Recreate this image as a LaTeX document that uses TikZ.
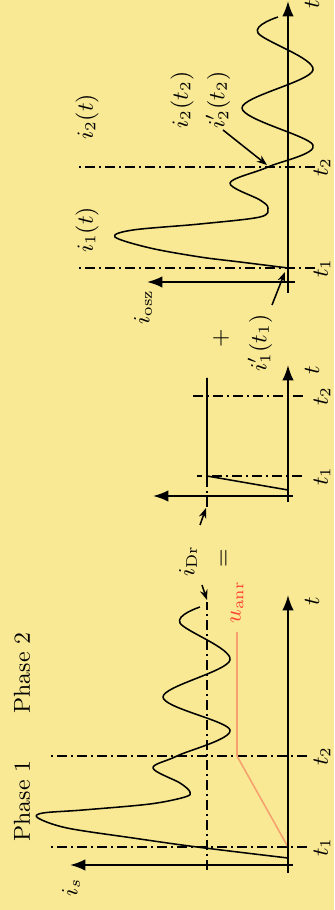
\documentclass[tikz,border=0pt]{standalone}
\usepackage{amsmath}
\usetikzlibrary{arrows.meta}
\definecolor{paper}{HTML}{F9E994}
\definecolor{ramp}{HTML}{F5A06E}
\definecolor{ramptext}{HTML}{FF4433}

\begin{document}
\begin{tikzpicture}[x=0.0137cm, y=0.0137cm, rotate=90, transform shape,
  axis/.style={thick, -{Latex[length=6pt, width=4.5pt]}},
  guide/.style={thin, dash pattern=on 4pt off 1.5pt on 0.8pt off 1.5pt},
  signal/.style={semithick, line join=round},
  pointer/.style={-{Stealth[length=4pt, width=3pt]}, semithick},
  lbl/.style={font=\small, inner sep=1pt},
]
\fill[paper] (0,0) rectangle (910,334);
\useasboundingbox (0,0) rectangle (910,334);

% left: total current
\draw[guide] (63,27) -- (63,286);
\draw[guide] (154,27) -- (154,286);
\draw[guide] (40,127) -- (308,127);
\draw[ramp, semithick] (40,46) -- (63,46) -- (154,97) -- (278,97);
\draw[signal] (40,46) -- (52,46) plot[smooth, tension=0.55] coordinates {(52,46) (63,137) (72,201) (82,267) (92,296) (97,291) (100,251) (106,184) (113,149) (118,144) (127,154) (142,181) (154,157) (180,104) (213,171) (250,104) (287,154) (303,134)};
\draw[axis] (37,46) -- (315,46);
\draw[axis] (45,41) -- (45,264);
\node[lbl] (phaseA) at (109,312) {Phase 1};
\node[lbl] (phaseB) at (237,312) {Phase 2};
\node[lbl] (is) at (23,263) {$i_s$};
\node[lbl] (tA) at (309,22) {$t$};
\node[lbl] (tA1) at (63,12) {$t_1$};
\node[lbl] (tA2) at (154,12) {$t_2$};
\node[lbl, text=ramptext] (uanr) at (308,97) {$u_{\mathrm{anr}}$};

% middle: choke current
\node[lbl] (idr) at (349,146) {$i_{\mathrm{Dr}}$};
\node[lbl] (eq) at (352,109) {$=$};
\coordinate (drA) at (325,132);
\coordinate (drAend) at (310,127);
\coordinate (drB) at (385,134);
\coordinate (drBend) at (402,128);
\draw[pointer] (drA) -- (drAend);
\draw[pointer] (drB) -- (drBend);
\draw[guide] (434,32) -- (434,137);
\draw[guide] (514,31) -- (514,144);
\draw[guide] (403,127) -- (434,127);
\draw[signal] (410,46) -- (420,46) -- (434,127) -- (532,127);
\draw[axis] (408,46) -- (545,46);
\draw[axis] (414,41) -- (414,181);
\node[lbl] (tB) at (540,22) {$t$};
\node[lbl] (tB1) at (434,12) {$t_1$};
\node[lbl] (tB2) at (514,12) {$t_2$};
\node[lbl] (plus) at (572,113) {$+$};

% right: oscillating part
\draw[guide] (642,19) -- (642,257);
\draw[guide] (743,19) -- (743,257);
\draw[signal] plot[smooth, tension=0.55] coordinates {(642,46) (648,94) (653,134) (662,184) (673,219) (680,201) (686,134) (693,74) (702,66) (710,74) (727,104) (743,66) (765,21) (802,92) (840,21) (877,76) (893,56)};
\draw[axis] (617,46) -- (909,46);
\draw[axis] (628,39) -- (628,187);
\node[lbl] (iosz) at (603,191) {$i_{\mathrm{osz}}$};
\node[lbl] (ia) at (567,74) {$i_1'(t_1)$};
\node[lbl] (tC) at (906,22) {$t$};
\node[lbl] (tC1) at (642,12) {$t_1$};
\node[lbl] (tC2) at (743,12) {$t_2$};
\node[lbl] (ione) at (680,247) {$i_1(t)$};
\node[lbl] (itwo) at (793,247) {$i_2(t)$};
\node[lbl] (ib) at (810,152) {$i_2(t_2)$};
\node[lbl] (ic) at (810,116) {$i_2'(t_2)$};
\coordinate (iaTail) at (605,62);
\coordinate (iaTip) at (638,49);
\coordinate (icTail) at (780,111);
\coordinate (icTip) at (745,67);
\draw[pointer] (iaTail) -- (iaTip);
\draw[pointer] (icTail) -- (icTip);
\end{tikzpicture}
\end{document}
